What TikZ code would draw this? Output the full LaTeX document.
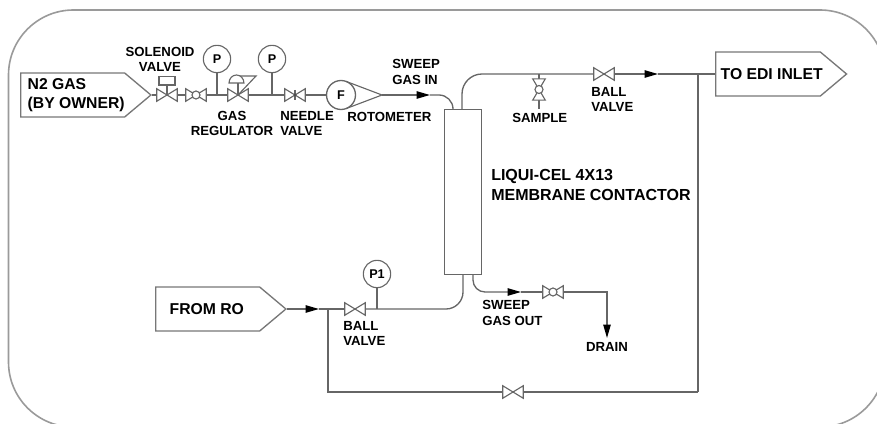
\documentclass[tikz,border=0pt]{standalone}
\usepackage{fontspec}
\setmainfont{Liberation Sans}
\usetikzlibrary{arrows.meta,shapes.symbols,calc}
\definecolor{pipegray}{HTML}{666666}
\definecolor{framegray}{HTML}{9A9A9A}
\definecolor{boxgray}{HTML}{777777}
\tikzset{
  x=0.75pt,y=-0.75pt,
  frame/.style={draw=framegray,line width=1.2pt,rounded corners=48.75pt},
  pipe/.style={draw=pipegray,line width=1pt},
  sym/.style={draw=pipegray,line width=0.85pt,fill=white,line join=miter},
  flow/.style={-{Triangle[length=10pt,width=5.5pt,color=black]}},
  bowtie/.style={inner sep=0pt,minimum width=15pt,minimum height=9pt},
  vbowtie/.style={inner sep=0pt,minimum width=9pt,minimum height=15.5pt},
  gauge/.style={circle,draw=pipegray,line width=0.85pt,fill=white,inner sep=0pt,minimum size=20.5pt,text=black,font=\fontsize{9.5pt}{11pt}\selectfont\bfseries},
  sig/.style={signal,signal to=east,signal pointer angle=80,draw=boxgray,line width=1pt,fill=white,minimum height=33pt,inner ysep=0pt,text=black,font=\fontsize{11.8pt}{14pt}\selectfont\bfseries,align=left},
  lab/.style={inner sep=0pt,text=black,font=\fontsize{9.9pt}{11.4pt}\selectfont\bfseries},
  biglab/.style={inner sep=0pt,text=black,font=\fontsize{12pt}{14.7pt}\selectfont\bfseries},
}
\newcommand{\drawtie}[1]{\draw[sym] (#1.south west)--(#1.north east)--(#1.south east)--(#1.north west)--cycle;}
\newcommand{\drawvtie}[1]{\draw[sym] (#1.north west)--(#1.south east)--(#1.south west)--(#1.north east)--cycle;}
\begin{document}
\begin{tikzpicture}
\useasboundingbox (0,0) rectangle (877,424);
\clip (0,0) rectangle (877,424);
\path[frame] (8.5,10) rectangle (885,427);

% boxes
\node[sig,anchor=west,inner xsep=5.25pt] (n2) at (20,95) {\makebox[67.5pt][l]{N2 GAS}\\\makebox[67.5pt][l]{(BY OWNER)}};
\node[sig,anchor=west,inner xsep=10.5pt] (ro) at (155,309) {\makebox[57pt][l]{FROM RO}};
\node[sig,anchor=west,inner xsep=3.75pt] (edi) at (715,74) {\makebox[71pt][l]{TO EDI INLET}};
\node[draw=pipegray,line width=1pt,fill=white,minimum width=27.75pt,minimum height=123.75pt,inner sep=0pt,anchor=north west] (mc) at (444,109) {};

% valves
\node[bowtie] (sv) at (167,95) {};
\node[bowtie] (cv1) at (196,95) {};
\node[bowtie] (reg) at (238,95) {};
\node[bowtie] (nv) at (295,95) {};
\node[gauge] (p1) at (217,59) {P};
\node[gauge] (p2) at (272,59) {P};
\node[gauge] (p3) at (377,274) {P1};
\node[circle,draw=pipegray,line width=1pt,fill=white,inner sep=0pt,minimum size=21.75pt,text=black,font=\fontsize{9.5pt}{11pt}\selectfont\bfseries] (fm) at (341,95) {F};
\coordinate (fmtip) at (382,95);
\node[bowtie] (bv1) at (604,74) {};
\node[bowtie] (bv2) at (355,309) {};
\node[bowtie] (bv3) at (513,392) {};
\node[bowtie] (cv2) at (553,292) {};
\node[vbowtie] (sm) at (539,89.5) {};

% named points
\coordinate (a1) at (430,95);
\coordinate (ci) at (453,109);
\coordinate (co) at (462,109);
\coordinate (a2) at (658,74);
\coordinate (jt) at (698,74);
\coordinate (jb) at (698,392);
\coordinate (a3) at (319,309);
\coordinate (jl) at (328,309);
\coordinate (bl) at (328,392);
\coordinate (mi) at (463,274);
\coordinate (so) at (473,274);
\coordinate (a4) at (521,292);
\coordinate (dr) at (607,338);
\coordinate (smend) at (539,109);
\coordinate (smtop) at (539,74);
\coordinate (p1b) at (217,95);
\coordinate (p2b) at (272,95);
\coordinate (p3b) at (377,309);

% pipes
\draw[pipe] (n2.east) -- (sv.west);
\draw[pipe] (sv.east) -- (cv1.west);
\draw[pipe] (cv1.east) -- (reg.west);
\draw[pipe] (reg.east) -- (nv.west);
\draw[pipe] (nv.east) -- (fm.west);
\draw[pipe] (p1) -- (p1b);
\draw[pipe] (p2) -- (p2b);
\draw[pipe,flow] (fmtip) -- (a1);
\draw[pipe,rounded corners=10.5pt] (a1) -| (ci);
\draw[pipe,rounded corners=15pt] (co) |- (bv1.west);
\draw[pipe] (smtop) -- (sm.north);
\draw[pipe] (sm.south) -- (smend);
\draw[pipe,flow] (bv1.east) -- (a2);
\draw[pipe] (a2) -- (edi.west);
\draw[pipe] (jt) -- (jb);
\draw[pipe,flow] (ro.east) -- (a3);
\draw[pipe] (a3) -- (bv2.west);
\draw[pipe] (jl) -- (bl) -- (bv3.west);
\draw[pipe] (bv3.east) -- (jb);
\draw[pipe,rounded corners=12.75pt] (bv2.east) -| (mi);
\draw[pipe] (p3) -- (p3b);
\draw[pipe,flow,rounded corners=9pt] (so) |- (a4);
\draw[pipe] (a4) -- (cv2.west);
\draw[pipe,flow] (cv2.east) -| (dr);

% symbols
\drawtie{sv}
\draw[sym] (159,76.7) rectangle (175,85);
\draw[pipe] (167,85) -- (sv.center);
\drawtie{cv1}
\draw[sym] (cv1.center) circle[radius=3pt];
\drawtie{reg}
\draw[pipe] (238,83) -- (reg.center);
\draw[sym,fill=none] (229,83) arc[start angle=180,end angle=0,x radius=5.6pt,y radius=6pt] -- cycle;
\draw[sym,fill=none] (240,76) -- (256,76) -- (reg.center);
\drawtie{nv}
\draw[sym] (295,90) -- (295,100);
\fill[black!70] (nv.center) circle[radius=1.3pt];
\drawtie{bv1}
\drawtie{bv2}
\drawtie{bv3}
\drawtie{cv2}
\draw[sym] (cv2.center) circle[radius=3pt];
\drawvtie{sm}
\draw[sym] (sm.center) circle[radius=3pt];
\draw[sym,fill=none] (fm.center) ++(69.3:14.5) -- (fmtip) -- ($(fm.center)+(-69.3:14.5)$);

% labels
\node[lab,align=center] (t1) at (160,59.5) {SOLENOID\\VALVE};
\node[lab,align=center] (t2) at (232,123.5) {GAS\\REGULATOR};
\node[lab,align=left,anchor=west] (t3) at (280,123.5) {NEEDLE\\VALVE};
\node[lab,anchor=west] (t4) at (347,117) {ROTOMETER};
\node[lab,align=left,anchor=west] (t5) at (392,72) {SWEEP\\GAS IN};
\node[lab,anchor=west] (t6) at (512,118) {SAMPLE};
\node[lab,align=left,anchor=west] (t7) at (591,99.5) {BALL\\VALVE};
\node[biglab,align=left,anchor=west] (t8) at (491,185) {LIQUI-CEL 4X13\\MEMBRANE CONTACTOR};
\node[lab,align=left,anchor=west] (t9) at (343,333.5) {BALL\\VALVE};
\node[lab,align=left,anchor=west] (t10) at (482,313) {SWEEP\\GAS OUT};
\node[lab] (t11) at (607,347) {DRAIN};
\end{tikzpicture}
\end{document}
